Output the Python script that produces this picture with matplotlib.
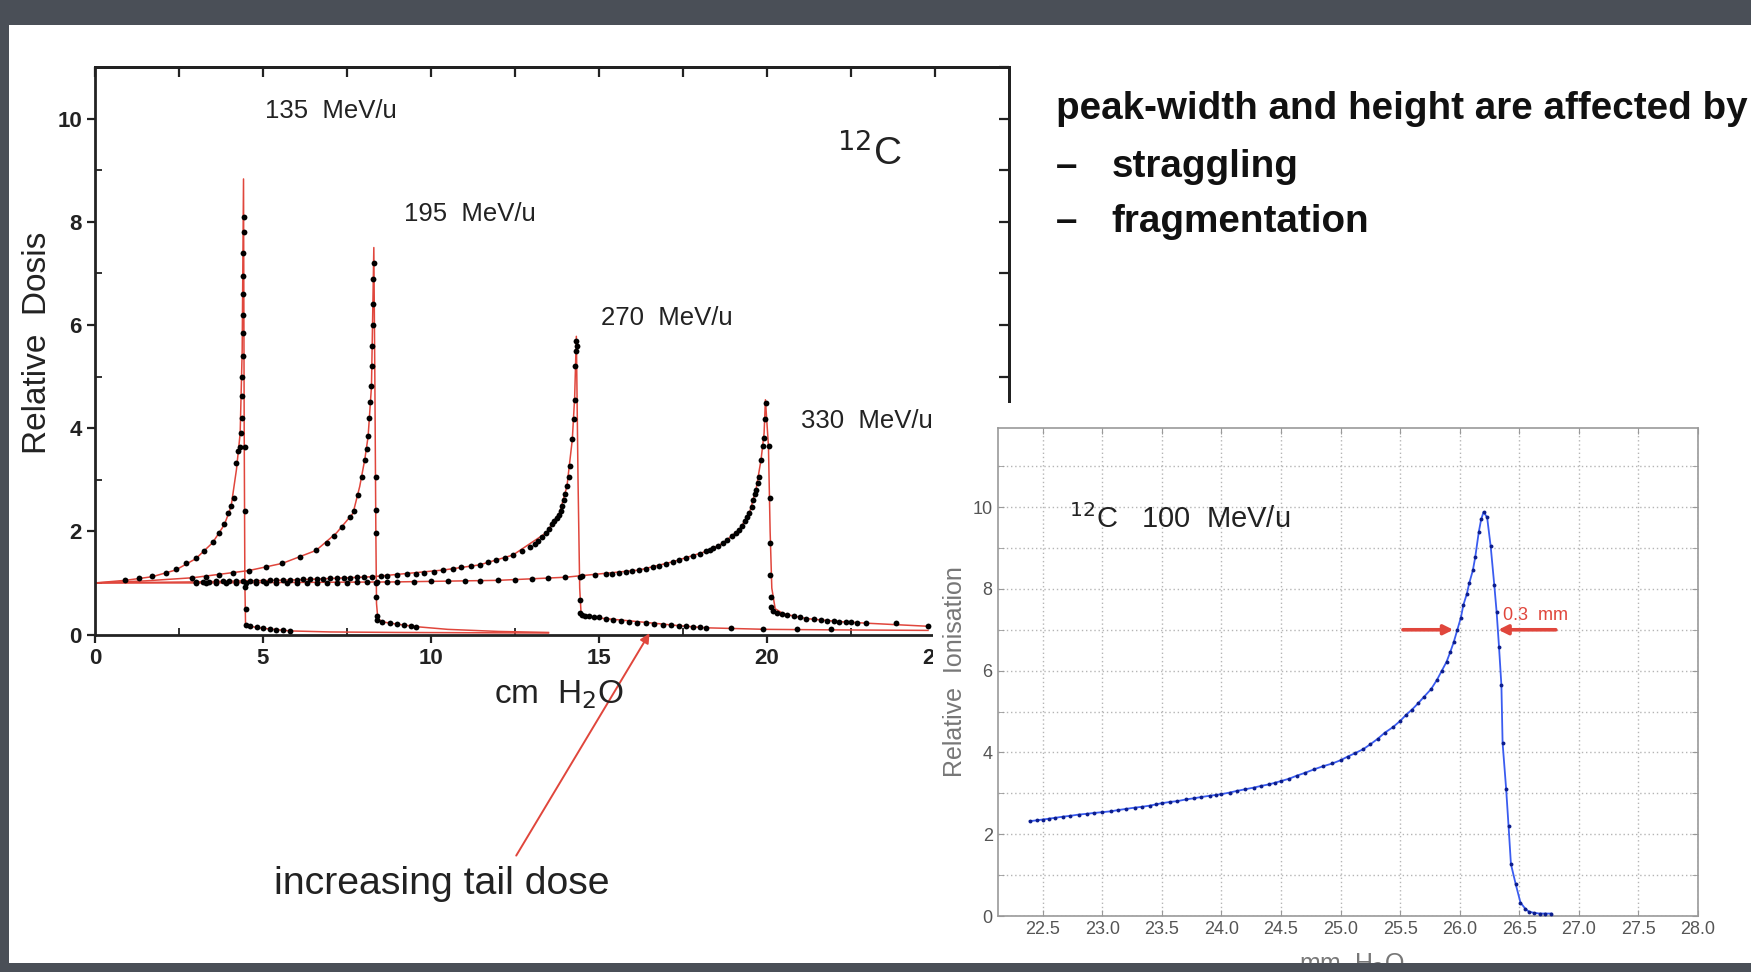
"""Bragg curves of 12C in water, with a 100 MeV/u close-up inset"""

import matplotlib
matplotlib.use('Agg')
import matplotlib.pyplot as plt
import numpy as np
from matplotlib.patches import Rectangle

plt.rcParams['font.family'] = ['Liberation Sans', 'DejaVu Sans']
narrow = ['Liberation Sans Narrow', 'Liberation Sans', 'DejaVu Sans']

# ---- data (depth in cm H2O, relative dose) ----
c135_x = [0.9, 1.3, 1.7, 2.1, 2.4, 2.7, 3.0, 3.25, 3.5, 3.7,
          3.85, 3.96, 4.05, 4.14, 4.21, 4.27, 4.32, 4.35, 4.36, 4.37,
          4.38, 4.39, 4.39, 4.40, 4.40, 4.41, 4.41, 4.42, 4.42, 4.45,
          4.46, 4.47, 4.48, 4.50, 4.6, 4.81, 5.0, 5.2, 5.4, 5.6, 5.8]
c135_y = [1.06, 1.09, 1.13, 1.19, 1.27, 1.38, 1.49, 1.62, 1.8, 1.97,
          2.15, 2.36, 2.5, 2.65, 3.33, 3.55, 3.64, 3.9, 4.2, 4.62,
          5.0, 5.4, 5.85, 6.2, 6.6, 6.95, 7.4, 7.8, 8.09, 3.64,
          2.4, 0.93, 0.5, 0.18, 0.16, 0.15, 0.12, 0.1, 0.09, 0.08, 0.07]
fit135_x = [0, 0.9, 1.7, 2.4, 3.0, 3.5, 3.85, 4.05, 4.21, 4.32, 4.38,
            4.42, 4.44, 4.46, 4.48, 4.6, 5.0, 5.8, 7.0, 9.0, 11.0, 13.5]
fit135_y = [1.0, 1.05, 1.12, 1.25, 1.47, 1.78, 2.13, 2.48, 3.2, 3.9, 5.5,
            8.83, 4.0, 1.0, 0.2, 0.16, 0.12, 0.07, 0.05, 0.04, 0.035, 0.03]

c195_x = [2.9, 3.3, 3.7, 4.1, 4.58, 5.1, 5.58, 6.1, 6.58, 6.9,
          7.1, 7.35, 7.58, 7.7, 7.84, 7.95, 8.03, 8.1, 8.13, 8.17,
          8.2, 8.23, 8.25, 8.26, 8.27, 8.28, 8.29, 8.30, 8.36, 8.36,
          8.36, 8.37, 8.37, 8.38, 8.4, 8.55, 8.78, 9.0, 9.2, 9.4, 9.57]
c195_y = [1.1, 1.12, 1.15, 1.19, 1.24, 1.3, 1.38, 1.5, 1.63, 1.78,
          1.9, 2.08, 2.28, 2.4, 2.7, 3.05, 3.39, 3.6, 3.84, 4.2,
          4.5, 4.81, 5.2, 5.6, 6.0, 6.4, 6.9, 7.21, 3.06, 2.42,
          1.97, 0.99, 0.73, 0.35, 0.28, 0.24, 0.22, 0.2, 0.18, 0.16, 0.15]
fit195_x = [0, 1.5, 2.9, 4.58, 5.58, 6.58, 7.19, 7.68, 7.88, 8.03, 8.13, 8.23,
            8.30, 8.33, 8.36, 8.38, 8.42, 8.6, 9.0, 9.6, 10.5, 12.0, 13.5]
fit195_y = [1.0, 1.04, 1.1, 1.24, 1.38, 1.63, 1.97, 2.35, 2.87, 3.39, 3.84, 4.81,
            7.5, 5.0, 2.0, 0.6, 0.3, 0.24, 0.2, 0.15, 0.1, 0.06, 0.04]

c270_x = [3.0, 3.2, 3.4, 3.6, 3.8, 4.0, 4.2, 4.4, 4.6, 4.8,
          5.0, 5.2, 5.4, 5.6, 5.8, 6.0, 6.2, 6.4, 6.6, 6.8,
          7.0, 7.2, 7.4, 7.6, 7.8, 8.0, 8.26, 8.5, 8.7, 9.0,
          9.3, 9.55, 9.8, 10.1, 10.37, 10.65, 10.9, 11.2, 11.45, 11.7,
          11.95, 12.2, 12.44, 12.7, 12.94, 13.1, 13.2, 13.32, 13.43, 13.52,
          13.6, 13.67, 13.74, 13.8, 13.86, 13.91, 13.95, 14.0, 14.05, 14.1,
          14.15, 14.21, 14.25, 14.28, 14.3, 14.31, 14.33, 14.36, 14.43, 14.43,
          14.45, 14.5, 14.6, 14.72, 14.85, 15.0, 15.2, 15.42, 15.65, 15.9,
          16.15, 16.41, 16.65, 16.9, 17.15, 17.4, 17.6, 17.8, 18.0, 18.2,
          18.94, 19.9, 20.9, 21.9]
c270_y = [1.02, 1.02, 1.02, 1.03, 1.03, 1.03, 1.03, 1.04, 1.04, 1.04,
          1.04, 1.05, 1.05, 1.05, 1.06, 1.06, 1.07, 1.07, 1.08, 1.08,
          1.09, 1.09, 1.1, 1.1, 1.11, 1.11, 1.12, 1.13, 1.14, 1.15,
          1.17, 1.18, 1.2, 1.22, 1.25, 1.27, 1.3, 1.32, 1.35, 1.4,
          1.45, 1.49, 1.54, 1.61, 1.7, 1.76, 1.82, 1.89, 1.97, 2.05,
          2.15, 2.2, 2.25, 2.32, 2.4, 2.5, 2.6, 2.72, 2.87, 3.05,
          3.26, 3.78, 4.17, 4.55, 5.2, 5.5, 5.69, 5.6, 1.12, 0.67,
          0.41, 0.38, 0.36, 0.35, 0.34, 0.33, 0.3, 0.28, 0.27, 0.25,
          0.23, 0.22, 0.21, 0.19, 0.18, 0.17, 0.16, 0.15, 0.14, 0.13,
          0.12, 0.1, 0.1, 0.1]
fit270_x = [0, 3.0, 6.0, 8.26, 10.37, 11.45, 12.44, 13.43, 13.83, 14.05, 14.21, 14.28,
            14.33, 14.38, 14.43, 14.47, 14.6, 15.0, 16.0, 17.4, 18.2, 20.0, 22.0, 24.8]
fit270_y = [1.0, 1.02, 1.06, 1.12, 1.25, 1.35, 1.54, 1.97, 2.36, 2.87, 3.78, 4.6,
            5.78, 3.0, 0.9, 0.42, 0.36, 0.32, 0.26, 0.17, 0.13, 0.1, 0.09, 0.08]

c330_x = [3.0, 3.3, 3.6, 3.9, 4.2, 4.5, 4.8, 5.1, 5.4, 5.7,
          6.0, 6.3, 6.6, 6.9, 7.2, 7.5, 7.8, 8.1, 8.4, 8.7,
          9.0, 9.5, 10.0, 10.5, 11.0, 11.45, 12.0, 12.5, 13.0, 13.5,
          14.0, 14.5, 14.9, 15.2, 15.4, 15.6, 15.8, 16.0, 16.2, 16.4,
          16.6, 16.8, 17.0, 17.2, 17.4, 17.6, 17.8, 18.0, 18.19, 18.3,
          18.4, 18.55, 18.69, 18.82, 18.95, 19.07, 19.18, 19.27, 19.35, 19.42,
          19.48, 19.55, 19.6, 19.65, 19.68, 19.73, 19.78, 19.83, 19.88, 19.92,
          19.95, 19.97, 20.07, 20.1, 20.1, 20.1, 20.12, 20.14, 20.2, 20.3,
          20.45, 20.6, 20.8, 21.0, 21.17, 21.4, 21.6, 21.8, 22.0, 22.16,
          22.35, 22.5, 22.7, 22.96, 23.85, 24.8]
c330_y = [1.0, 1.0, 1.0, 1.0, 1.0, 1.0, 1.0, 1.0, 1.0, 1.0,
          1.0, 1.0, 1.0, 1.0, 1.0, 1.0, 1.01, 1.01, 1.01, 1.01,
          1.02, 1.02, 1.03, 1.03, 1.04, 1.04, 1.05, 1.06, 1.07, 1.09,
          1.11, 1.13, 1.15, 1.17, 1.18, 1.2, 1.21, 1.23, 1.25, 1.27,
          1.3, 1.33, 1.37, 1.41, 1.45, 1.48, 1.52, 1.56, 1.61, 1.64,
          1.68, 1.72, 1.77, 1.83, 1.9, 1.96, 2.03, 2.11, 2.2, 2.27,
          2.35, 2.48, 2.6, 2.72, 2.81, 2.94, 3.06, 3.39, 3.65, 3.81,
          4.17, 4.49, 3.65, 2.64, 1.77, 1.16, 0.73, 0.54, 0.45, 0.42,
          0.4, 0.38, 0.36, 0.33, 0.31, 0.3, 0.28, 0.27, 0.26, 0.25,
          0.24, 0.24, 0.23, 0.22, 0.22, 0.17]
fit330_x = [0, 3.0, 9.0, 12.0, 14.0, 16.2, 17.2, 18.19, 18.69, 19.18, 19.48, 19.68,
            19.83, 19.92, 19.96, 20.05, 20.1, 20.15, 20.25, 20.5, 21.17, 22.16, 22.96, 24.8]
fit330_y = [1.0, 1.0, 1.02, 1.05, 1.11, 1.25, 1.41, 1.61, 1.77, 2.03, 2.35, 2.81,
            3.39, 3.9, 4.55, 3.65, 2.0, 0.9, 0.5, 0.4, 0.31, 0.25, 0.22, 0.16]

energies = ['135', '195', '270', '330']
label_pos = [(5.05, 10.15), (9.2, 8.16), (15.05, 6.14), (21.03, 4.14)]

# inset: 100 MeV/u, depth in mm H2O, relative ionisation
ion_x = [22.39, 22.45, 22.5, 22.55, 22.6, 22.67, 22.73, 22.8, 22.87, 22.93,
         23.0, 23.07, 23.13, 23.2, 23.27, 23.33, 23.4, 23.45, 23.5, 23.57,
         23.63, 23.7, 23.77, 23.83, 23.9, 23.95, 24.0, 24.07, 24.13, 24.2,
         24.27, 24.33, 24.4, 24.45, 24.5, 24.57, 24.63, 24.7, 24.78, 24.85,
         24.93, 25.0, 25.06, 25.12, 25.19, 25.25, 25.31, 25.37, 25.44, 25.5,
         25.55, 25.6, 25.65, 25.7, 25.76, 25.81, 25.85, 25.89, 25.92, 25.95,
         25.98, 26.01, 26.03, 26.06, 26.08, 26.11, 26.13, 26.16, 26.18, 26.2,
         26.23, 26.26, 26.29, 26.31, 26.33, 26.35, 26.36, 26.39, 26.41, 26.43,
         26.47, 26.51, 26.55, 26.58, 26.62, 26.67, 26.72, 26.77]
ion_y = [2.32, 2.34, 2.36, 2.38, 2.4, 2.43, 2.45, 2.48, 2.5, 2.52,
         2.54, 2.56, 2.59, 2.62, 2.65, 2.67, 2.7, 2.73, 2.76, 2.79,
         2.81, 2.85, 2.88, 2.91, 2.94, 2.96, 2.98, 3.02, 3.06, 3.1,
         3.14, 3.18, 3.22, 3.26, 3.3, 3.36, 3.43, 3.5, 3.59, 3.66,
         3.73, 3.81, 3.9, 3.98, 4.08, 4.2, 4.33, 4.48, 4.62, 4.77,
         4.92, 5.05, 5.2, 5.36, 5.55, 5.78, 6.0, 6.22, 6.45, 6.7,
         7.0, 7.3, 7.6, 7.88, 8.14, 8.45, 8.77, 9.39, 9.7, 9.88,
         9.75, 9.04, 8.1, 7.43, 6.58, 5.64, 4.23, 3.1, 2.2, 1.27,
         0.78, 0.33, 0.18, 0.11, 0.08, 0.06, 0.06, 0.06]
ion_xticks = [22.5, 23.0, 23.5, 24.0, 24.5, 25.0, 25.5, 26.0, 26.5, 27.0, 27.5, 28.0]

dark = '#4a4f57'
red = '#e0463c'

fig = plt.figure(figsize=(17.51, 9.72), dpi=100, facecolor=dark)
fig.add_artist(Rectangle((0.005, 0.0093), 0.995, 0.9654, transform=fig.transFigure,
                         facecolor='white', edgecolor='none', zorder=-1))
renderer = fig.canvas.get_renderer()


def fit_width(t, target_px):
    # shrink/grow a text so it spans the same width as in the slide
    w = t.get_window_extent(renderer).width
    t.set_fontsize(t.get_fontsize() * target_px / w)
    return t.get_fontsize()


# ---- main plot ----
ax = fig.add_axes([0.0543, 0.3472, 0.5217, 0.5839])
ax.set_zorder(0)
fits = [(fit135_x, fit135_y), (fit195_x, fit195_y), (fit270_x, fit270_y), (fit330_x, fit330_y)]
dots = [(c135_x, c135_y), (c195_x, c195_y), (c270_x, c270_y), (c330_x, c330_y)]
for fx, fy in fits:
    ax.plot(fx, fy, color=red, lw=1.1, zorder=2)
for dx, dy in dots:
    ax.plot(dx, dy, 'o', color='black', ms=4.2, mew=0, zorder=3)
for e, (lx, ly) in zip(energies, label_pos):
    t = ax.text(lx, ly, e + '  MeV/u', fontsize=18, va='center', ha='left', color='#222222')
    fit_width(t, 132)
ax.text(22.1, 9.33, r'$^{12}$C', fontsize=28, va='center', ha='left', color='#222222')

ax.set_xlim(0, 27.2)
ax.set_ylim(0, 11)
ax.set_xticks([0, 5, 10, 15, 20, 25])
ax.set_xticks(np.arange(2.5, 27, 5), minor=True)
ax.set_yticks([0, 2, 4, 6, 8, 10])
ax.set_yticks([1, 3, 5, 7, 9], minor=True)
ax.tick_params(which='major', direction='out', length=6, width=1.6, labelsize=16, colors='#222222')
ax.tick_params(which='minor', direction='in', length=5, width=1.3, colors='#222222')
for lab in ax.get_xticklabels() + ax.get_yticklabels():
    lab.set_family(narrow)
    lab.set_fontweight('bold')
for sp in ax.spines.values():
    sp.set_linewidth(2)
    sp.set_color('#222222')
top = ax.secondary_xaxis('top')
top.set_xticks(np.arange(0, 27.5, 2.5))
top.tick_params(direction='in', length=7, width=1.6, labeltop=False, colors='#222222')
top.spines['top'].set_linewidth(2)
rgt = ax.secondary_yaxis('right')
rgt.set_yticks(np.arange(0, 12, 1))
rgt.tick_params(direction='in', length=7, width=1.6, labelright=False, colors='#222222')
rgt.spines['right'].set_linewidth(2)
ax.set_ylabel('Relative  Dosis', fontsize=24, color='#222222')
ax.yaxis.set_label_coords(-0.0465, 0.514)

fig.text(0.282, 0.276, r'cm  H$_2$O', fontsize=24, color='#222222')

# tail dose arrow
ax.annotate('', xy=(16.55, 0.07), xytext=(0.294, 0.1173), textcoords='figure fraction',
            arrowprops=dict(arrowstyle='-|>', color=red, lw=1.4, mutation_scale=14),
            annotation_clip=False)
tail = fig.text(0.1563, 0.0807, 'increasing tail dose', fontsize=32, family=narrow,
                color='#222222')
fit_width(tail, 336)

# crop the right lower edge of the main plot
fig.add_artist(Rectangle((0.5328, 0.0093), 0.046, 0.576, transform=fig.transFigure,
                         facecolor='white', edgecolor='none', zorder=1))

# ---- right-hand text ----
head = fig.text(0.6028, 0.878, 'peak-width and height are affected by', fontsize=32,
                family=narrow, fontweight='bold', color='#111111')
fs = fit_width(head, 692)
for yy, word in [(0.8184, 'straggling'), (0.761, 'fragmentation')]:
    fig.text(0.6028, yy, '\u2013', fontsize=fs, family=narrow, fontweight='bold', color='#111111')
    fig.text(0.6347, yy, word, fontsize=fs, family=narrow, fontweight='bold', color='#111111')

# ---- inset ----
ax2 = fig.add_axes([0.5697, 0.0576, 0.400, 0.5023])
ax2.set_zorder(2)
ax2.set_facecolor('white')
ax2.plot(ion_x, ion_y, '-', color='#3a5cf0', lw=1.3, zorder=3)
ax2.plot(ion_x, ion_y, 'o', color='#0c1d8c', ms=2.8, mew=0, zorder=4)
ax2.set_xlim(22.12, 28.0)
ax2.set_ylim(0, 11.94)
ax2.set_xticks(ion_xticks)
ax2.set_xticklabels(['%.1f' % v for v in ion_xticks])
ax2.set_yticks([0, 2, 4, 6, 8, 10])
ax2.set_yticks(np.arange(1, 12, 1), minor=True)
ax2.grid(True, which='both', axis='y', color='#b5b5b5', lw=1, ls=(0, (1, 2)))
ax2.grid(True, which='major', axis='x', color='#b5b5b5', lw=1, ls=(0, (1, 2)))
ax2.tick_params(which='both', direction='in', length=4, color='#999999',
                top=True, right=True, labelsize=13, labelcolor='#555555')
for lab in ax2.get_xticklabels() + ax2.get_yticklabels():
    lab.set_family(narrow)
for sp in ax2.spines.values():
    sp.set_color('#999999')
    sp.set_linewidth(1.2)
ax2.set_ylabel('Relative  Ionisation', fontsize=18, color='#777777')
ax2.yaxis.set_label_coords(-0.044, 0.5)
ax2.text(22.72, 9.72, r'$^{12}$C   100  MeV/u', fontsize=21, va='center', color='#222222')
ax2.annotate('', xy=(25.97, 7.0), xytext=(25.5, 7.0),
             arrowprops=dict(arrowstyle='-|>', color=red, lw=2.6, mutation_scale=14))
ax2.annotate('', xy=(26.3, 7.0), xytext=(26.83, 7.0),
             arrowprops=dict(arrowstyle='-|>', color=red, lw=2.6, mutation_scale=14))
ax2.text(26.36, 7.36, '0.3  mm', fontsize=13, color=red, va='center', family=narrow)

fig.text(0.772, 0.0209, r'mm  H$_2$O', fontsize=18, color='#777777', ha='center', va='top')
fig.add_artist(Rectangle((0, 0), 1, 0.0093, transform=fig.transFigure,
                         facecolor=dark, edgecolor='none', zorder=10))

fig.savefig('out.png', facecolor=fig.get_facecolor(), dpi=100)
